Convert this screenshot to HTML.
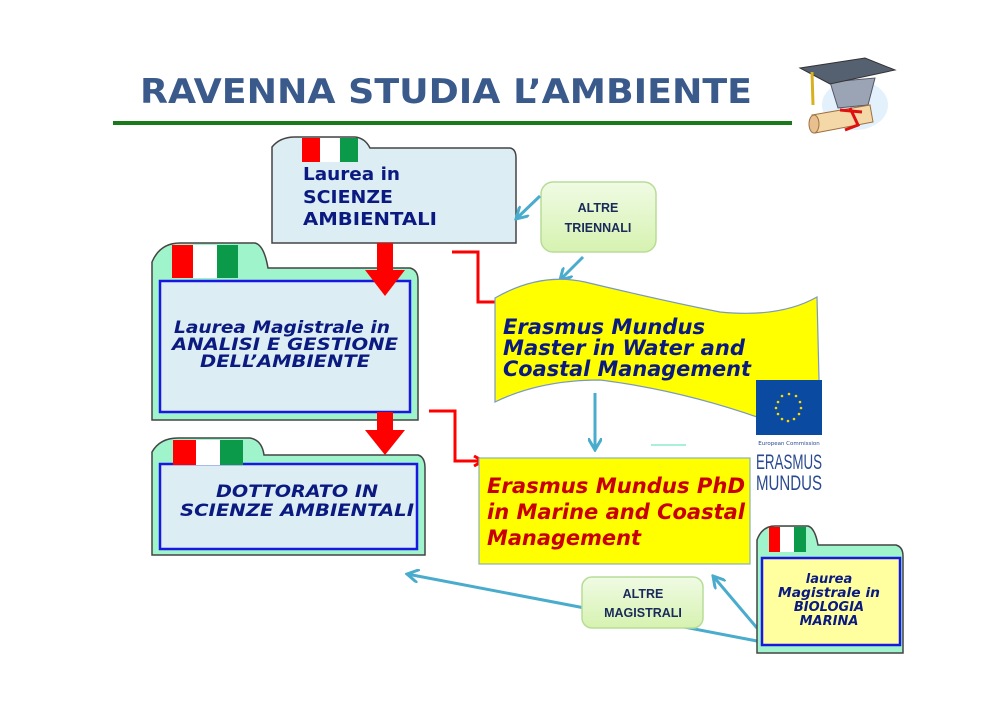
<!DOCTYPE html>
<html><head><meta charset="utf-8"><style>
html,body{margin:0;padding:0;background:#fff;}
svg{display:block;font-family:"DejaVu Sans","Liberation Sans",sans-serif;}
</style></head><body>
<svg width="992" height="701" viewBox="0 0 992 701" xmlns="http://www.w3.org/2000/svg">
<defs>
<marker id="rh" markerWidth="12" markerHeight="12" refX="9" refY="6" orient="auto" markerUnits="userSpaceOnUse"><path d="M1,1 L10,6 L1,11" fill="none" stroke="#f00" stroke-width="3"/></marker>
<marker id="bh" markerWidth="14" markerHeight="14" refX="12" refY="7" orient="auto" markerUnits="userSpaceOnUse"><path d="M0,0 L12,7 L0,14" fill="none" stroke="#4aaccc" stroke-width="3"/></marker>
<linearGradient id="gg" x1="0" y1="0" x2="0" y2="1"><stop offset="0" stop-color="#f0fbe4"/><stop offset="1" stop-color="#d6f2b0"/></linearGradient>
</defs>

<text x="140" y="103" font-weight="bold" font-size="34" fill="#3a5a8c" textLength="612" lengthAdjust="spacingAndGlyphs">RAVENNA STUDIA L’AMBIENTE</text>
<rect x="113" y="121" width="679" height="4" fill="#1a7a1a"/>

<g>
<ellipse cx="855" cy="105" rx="33" ry="25" fill="#cfe8f8" opacity="0.6"/>
<path d="M830,82 L875,78 L868,105 L838,108 Z" fill="#9aa4b4" stroke="#556"/>
<polygon points="800,68 865,58 895,70 830,84" fill="#556070" stroke="#333"/>
<path d="M812,115 L870,105 L873,122 L815,133 Z" fill="#f4d8a8" stroke="#a07040"/>
<ellipse cx="814" cy="124" rx="5" ry="9" fill="#e8c090" stroke="#a07040"/>
<path d="M850,108 L858,125 L845,130 M840,110 L862,112" stroke="#e01010" stroke-width="3" fill="none"/>
<line x1="812" y1="72" x2="813" y2="105" stroke="#d8b020" stroke-width="3"/>
</g>

<path d="M272,153 L272,147 Q280,137 295,137 L355,137 Q365,138 370,148 L510,148 Q516,149 516,158 L516,243 L272,243 Z" fill="#dcedf3" stroke="#444" stroke-width="1.5"/>
<rect x="302" y="138" width="18" height="24" fill="#f00"/><rect x="320" y="138" width="20" height="24" fill="#fff"/><rect x="340" y="138" width="18" height="24" fill="#0a9a4a"/>
<g font-weight="bold" font-size="18" fill="#0a1a80" lengthAdjust="spacingAndGlyphs"><text x="303" y="180" textLength="97" lengthAdjust="spacingAndGlyphs">Laurea in</text><text x="303" y="203" textLength="90" lengthAdjust="spacingAndGlyphs">SCIENZE</text><text x="303" y="225" textLength="134" lengthAdjust="spacingAndGlyphs">AMBIENTALI</text></g>

<path d="M152,268 L152,262 Q160,243 180,243 L255,243 Q264,245 268,268 L410,268 Q418,270 418,280 L418,420 L152,420 Z" fill="#a0f4cc" stroke="#444" stroke-width="1.5"/>
<rect x="160" y="281" width="250" height="131" fill="#dcedf3" stroke="#1818e0" stroke-width="2.5"/>
<rect x="172" y="245" width="21" height="33" fill="#f00"/><rect x="193" y="245" width="24" height="33" fill="#fff"/><rect x="217" y="245" width="21" height="33" fill="#0a9a4a"/>
<g font-weight="bold" font-style="italic" font-size="17" fill="#0a1a80" text-anchor="middle"><text x="282" y="333" textLength="216" lengthAdjust="spacingAndGlyphs">Laurea Magistrale in</text><text x="285" y="350" textLength="226" lengthAdjust="spacingAndGlyphs">ANALISI E GESTIONE</text><text x="285" y="367" textLength="170" lengthAdjust="spacingAndGlyphs">DELL’AMBIENTE</text></g>

<path d="M152,455 L152,452 Q160,438 178,438 L250,438 Q262,440 264,455 L418,455 Q425,457 425,468 L425,555 L152,555 Z" fill="#a0f4cc" stroke="#444" stroke-width="1.5"/>
<rect x="160" y="464" width="257" height="85" fill="#dcedf3" stroke="#1818e0" stroke-width="2.5"/>
<rect x="173" y="440" width="23" height="25" fill="#f00"/><rect x="196" y="440" width="24" height="25" fill="#fff"/><rect x="220" y="440" width="23" height="25" fill="#0a9a4a"/>
<g font-weight="bold" font-style="italic" font-size="17" fill="#0a1a80" text-anchor="middle"><text x="297" y="497" textLength="162" lengthAdjust="spacingAndGlyphs">DOTTORATO IN</text><text x="297" y="516" textLength="234" lengthAdjust="spacingAndGlyphs">SCIENZE AMBIENTALI</text></g>

<polygon points="377,243 393,243 393,270 405,270 385,296 365,270 377,270" fill="#f00"/>
<polygon points="377,412 393,412 393,430 405,430 385,455 365,430 377,430" fill="#f00"/>

<polyline points="452,252 478,252 478,302 505,302" fill="none" stroke="#f00" stroke-width="3" marker-end="url(#rh)"/>
<polyline points="429,411 455,411 455,461 482,461" fill="none" stroke="#f00" stroke-width="3" marker-end="url(#rh)"/>

<rect x="541" y="182" width="115" height="70" rx="12" fill="url(#gg)" stroke="#b8dc98" stroke-width="1.5"/>
<g font-size="12.5" fill="#1a2a5a" text-anchor="middle" font-family="'Liberation Sans',sans-serif" font-weight="bold"><text x="598" y="212">ALTRE</text><text x="598" y="232">TRIENNALI</text></g>
<line x1="540" y1="196" x2="516" y2="219" stroke="#4aaccc" stroke-width="3" marker-end="url(#bh)"/>
<line x1="583" y1="257" x2="560" y2="280" stroke="#4aaccc" stroke-width="3" marker-end="url(#bh)"/>

<path d="M495,298 Q540,272 585,282 Q660,300 720,312 Q780,318 817,297 L820,420 Q790,425 760,418 Q680,390 600,380 Q540,380 495,402 Z" fill="#ffff00" stroke="#7a98c4" stroke-width="1.2"/>
<g font-weight="bold" font-style="italic" font-size="21" fill="#0a1a80"><text x="503" y="334" textLength="202" lengthAdjust="spacingAndGlyphs">Erasmus Mundus</text><text x="503" y="355" textLength="242" lengthAdjust="spacingAndGlyphs">Master in Water and</text><text x="503" y="376" textLength="248" lengthAdjust="spacingAndGlyphs">Coastal Management</text></g>

<rect x="756" y="380" width="66" height="55" fill="#0a4aa0"/>
<g fill="#ffd800">
<circle cx="789" cy="394" r="1.3"/><circle cx="796" cy="396" r="1.3"/><circle cx="800" cy="402" r="1.3"/><circle cx="801" cy="408" r="1.3"/><circle cx="799" cy="414" r="1.3"/><circle cx="794" cy="419" r="1.3"/><circle cx="788" cy="421" r="1.3"/><circle cx="782" cy="419" r="1.3"/><circle cx="778" cy="414" r="1.3"/><circle cx="776" cy="408" r="1.3"/><circle cx="778" cy="402" r="1.3"/><circle cx="782" cy="396" r="1.3"/>
</g>
<text x="789" y="445" font-size="5.5" fill="#2a4a90" text-anchor="middle">European Commission</text>
<g font-size="21" fill="#2a4a90" text-anchor="middle" font-family="'Liberation Sans Narrow','Liberation Sans',sans-serif"><text x="789" y="469" textLength="66" lengthAdjust="spacingAndGlyphs">ERASMUS</text><text x="789" y="490" textLength="66" lengthAdjust="spacingAndGlyphs">MUNDUS</text></g>

<line x1="595" y1="393" x2="595" y2="450" stroke="#4aaccc" stroke-width="3" marker-end="url(#bh)"/>
<line x1="651" y1="445" x2="686" y2="445" stroke="#a8f0d8" stroke-width="2"/>

<rect x="479" y="458" width="271" height="106" fill="#ffff00" stroke="#8ab0b8" stroke-width="1.2"/>
<g font-weight="bold" font-style="italic" font-size="21" fill="#c80000"><text x="487" y="493" textLength="258" lengthAdjust="spacingAndGlyphs">Erasmus Mundus PhD</text><text x="487" y="519" textLength="258" lengthAdjust="spacingAndGlyphs">in Marine and Coastal</text><text x="487" y="545" textLength="154" lengthAdjust="spacingAndGlyphs">Management</text></g>

<line x1="757" y1="641" x2="407" y2="574" stroke="#4aaccc" stroke-width="3" marker-end="url(#bh)"/>
<line x1="757" y1="628" x2="713" y2="576" stroke="#4aaccc" stroke-width="3" marker-end="url(#bh)"/>

<rect x="582" y="577" width="121" height="51" rx="10" fill="url(#gg)" stroke="#b8dc98" stroke-width="1.5"/>
<g font-size="12.5" fill="#1a2a5a" text-anchor="middle" font-family="'Liberation Sans',sans-serif" font-weight="bold"><text x="643" y="598">ALTRE</text><text x="643" y="617">MAGISTRALI</text></g>

<path d="M757,545 L757,540 Q762,526 775,526 L808,526 Q815,528 818,545 L896,545 Q903,547 903,556 L903,653 L757,653 Z" fill="#a0f4cc" stroke="#444" stroke-width="1.5"/>
<rect x="762" y="558" width="138" height="87" fill="#ffffa0" stroke="#1818e0" stroke-width="2.5"/>
<rect x="769" y="527" width="11" height="25" fill="#f00"/><rect x="780" y="527" width="14" height="25" fill="#fff"/><rect x="794" y="527" width="12" height="25" fill="#0a9a4a"/>
<g font-weight="bold" font-style="italic" font-size="13" fill="#0a1a80" text-anchor="middle"><text x="829" y="583">laurea</text><text x="829" y="597" textLength="102" lengthAdjust="spacingAndGlyphs">Magistrale in</text><text x="829" y="611">BIOLOGIA</text><text x="829" y="625">MARINA</text></g>
</svg>
</body></html>
